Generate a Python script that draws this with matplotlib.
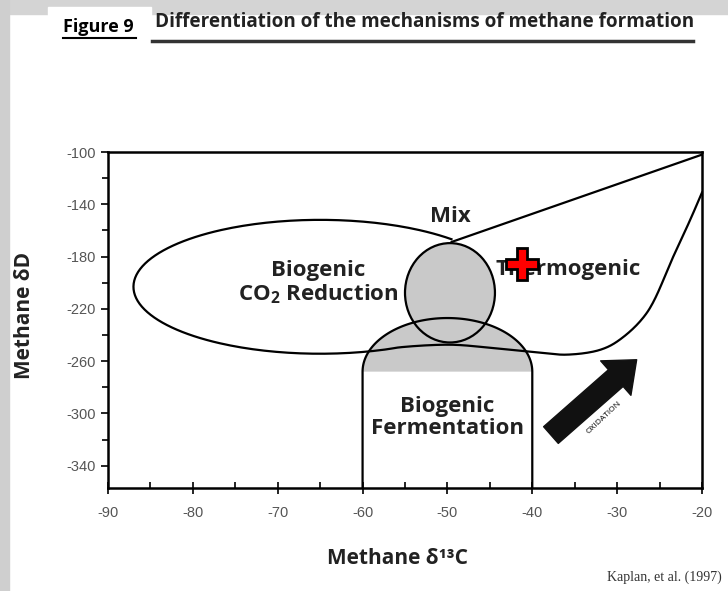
import numpy as np
import matplotlib.pyplot as plt
from matplotlib.patches import Ellipse, Rectangle

plt.rcParams['axes.unicode_minus'] = False
plt.rcParams['mathtext.fontset'] = 'custom'
plt.rcParams['mathtext.rm'] = 'Open Sans:bold'
plt.rcParams['mathtext.default'] = 'rm'

# CO2-reduction field: ellipse (centre, semi-axes) whose arc runs from the mix crossing round the left
co2_centre = (-65.0, -203.1)
co2_semi = (22.0, 51.2)
co2_arc_deg = (45.3, 295.3)
# lower / right boundary of the thermogenic field (delta13C, deltaD)
thermo_low_x = [-49.7, -45.0, -39.1, -35.9, -32.0, -29.7, -26.5, -23.4, -21.4, -20.0]
thermo_low_y = [-247.4, -249.7, -253.5, -255.0, -251.3, -243.6, -223.0, -180.2, -152.0, -131.0]
# upper boundary of thermogenic field
thermo_x = [-49.5, -20.0]
thermo_y = [-168.8, -102.0]
# mix field (centre, width, height)
mix_centre = (-49.7, -207.7)
mix_size = (10.6, 76.0)
# fermentation field: x range, dome base and dome top
ferm_x = [-60, -40]
ferm_base = -268
ferm_top = -227
# oxidation arrow (tail -> tip) and sample point
arrow_tail = (-37.8, -316.5)
arrow_tip = (-27.7, -258.9)
sample_x = [-41.2]
sample_y = [-186.0]

x_ticks = [-90, -80, -70, -60, -50, -40, -30, -20]
y_ticks = [-100, -140, -180, -220, -260, -300, -340]

PX_X, PX_Y = 8.486, 1.309  # pixels per data unit, used only to smooth the outline


def smooth(xs, ys, n=30):
    # centripetal Catmull-Rom through the outline points
    P = np.column_stack([np.array(xs) * PX_X, np.array(ys) * PX_Y])
    P = np.vstack([2 * P[0] - P[1], P, 2 * P[-1] - P[-2]])
    out = []
    for i in range(1, len(P) - 2):
        p0, p1, p2, p3 = P[i - 1], P[i], P[i + 1], P[i + 2]
        t0 = 0.0
        t1 = t0 + np.linalg.norm(p1 - p0) ** 0.5
        t2 = t1 + np.linalg.norm(p2 - p1) ** 0.5
        t3 = t2 + np.linalg.norm(p3 - p2) ** 0.5
        t = np.linspace(t1, t2, n, endpoint=False)[:, None]
        a1 = (t1 - t) / (t1 - t0) * p0 + (t - t0) / (t1 - t0) * p1
        a2 = (t2 - t) / (t2 - t1) * p1 + (t - t1) / (t2 - t1) * p2
        a3 = (t3 - t) / (t3 - t2) * p2 + (t - t2) / (t3 - t2) * p3
        b1 = (t2 - t) / (t2 - t0) * a1 + (t - t0) / (t2 - t0) * a2
        b2 = (t3 - t) / (t3 - t1) * a2 + (t - t1) / (t3 - t1) * a3
        out.append((t2 - t) / (t2 - t1) * b1 + (t - t1) / (t2 - t1) * b2)
    out.append(P[-2][None, :])
    out = np.vstack(out)
    return out[:, 0] / PX_X, out[:, 1] / PX_Y


W, H = 728, 591
fig = plt.figure(figsize=(W / 100, H / 100), dpi=100)
fig.patch.set_facecolor('white')

def fx(px):
    return px / W

def fy(py):
    return 1 - py / H

# page shadow
fig.patches.append(Rectangle((0, fy(14)), 1, 14 / H, transform=fig.transFigure,
                             color='#d4d4d4', zorder=0))
fig.patches.append(Rectangle((0, 0), 9 / W, 1, transform=fig.transFigure,
                             color='#cfcfcf', zorder=0))
fig.patches.append(Rectangle((fx(48), fy(48)), 103 / W, 41 / H, transform=fig.transFigure,
                             color='white', zorder=1))

bold = ['Open Sans', 'DejaVu Sans']
fig.text(fx(63), fy(27), 'Figure 9', fontsize=13, fontweight='bold', family=bold,
         va='center', ha='left', zorder=2)
fig.add_artist(plt.Line2D([fx(63), fx(136)], [fy(38), fy(38)], transform=fig.transFigure,
                          color='black', lw=1.5))
fig.text(fx(155), fy(22), 'Differentiation of the mechanisms of methane formation',
         fontsize=13.6, fontweight='bold', family=bold, va='center', ha='left', color='#222222')
fig.add_artist(plt.Line2D([fx(152), fx(693)], [fy(41), fy(41)], transform=fig.transFigure,
                          color='#333333', lw=2.5))

ax = fig.add_axes([fx(108), fy(488), (702 - 108) / W, (488 - 152) / H])
ax.set_xlim(-90, -20)
ax.set_ylim(-357, -100)

gray = '#c9c9c9'
# fermentation dome
th = np.linspace(0, np.pi, 100)
dome_x = -50 + 10 * np.cos(th)
dome_y = ferm_base + (ferm_top - ferm_base) * np.sin(th)
ax.fill(dome_x, dome_y, color=gray, lw=0, zorder=1)
ax.add_patch(Ellipse(mix_centre, mix_size[0], mix_size[1], facecolor=gray,
                     edgecolor='black', lw=1.6, zorder=2))
ax.plot(np.concatenate([[ferm_x[1]], dome_x, [ferm_x[0]]]),
        np.concatenate([[-357], dome_y, [-357]]), color='black', lw=1.6, zorder=3)

# CO2 ellipse arc, then the thermogenic lower boundary
ang = np.radians(np.linspace(co2_arc_deg[0], co2_arc_deg[1], 200))
arc_x = co2_centre[0] + co2_semi[0] * np.cos(ang)
arc_y = co2_centre[1] + co2_semi[1] * np.sin(ang)
tx, ty = smooth([arc_x[-4], arc_x[-1]] + thermo_low_x, [arc_y[-4], arc_y[-1]] + thermo_low_y)
ax.plot(np.concatenate([arc_x[:-3], tx]), np.concatenate([arc_y[:-3], ty]),
        color='black', lw=1.6, zorder=3)
ax.plot(thermo_x, thermo_y, color='black', lw=1.6, zorder=3)

ax.annotate('', xy=arrow_tip, xytext=arrow_tail,
            arrowprops=dict(arrowstyle='simple,head_length=1.0,head_width=1.65,tail_width=0.8',
                            mutation_scale=20, color='#111111', shrinkA=0, shrinkB=0), zorder=4)
ax.text(-31.5, -303.5, 'OXIDATION', fontsize=6, rotation=43, ha='center', va='center',
        family=bold, zorder=4)

ax.plot(sample_x, sample_y, marker='P', markersize=23, markerfacecolor='#ff0000',
        markeredgecolor='black', markeredgewidth=2, linestyle='none', zorder=6)

lab = dict(fontsize=16, fontweight='bold', family=bold, ha='center', va='center',
           color='#222222', zorder=5, linespacing=1.1)
ax.text(-49.7, -149.5, 'Mix', **lab)
ax.text(-65.2, -200, 'Biogenic\nCO$_2$ Reduction', **lab)
ax.text(-35.8, -190, 'Thermogenic', **lab)
ax.text(-50.0, -303, 'Biogenic\nFermentation', **lab)

ax.set_xticks(x_ticks)
ax.set_xticks(np.arange(-85, -20, 10), minor=True)
ax.set_yticks(y_ticks)
ax.set_yticks(np.arange(-120, -357, -40), minor=True)
ax.tick_params(axis='x', which='major', direction='inout', length=8, width=1.2,
               labelsize=10.5, labelcolor='#555555', pad=9)
ax.tick_params(axis='x', which='minor', direction='in', length=4, width=1.2)
ax.tick_params(axis='y', which='major', direction='out', length=5, width=1.2,
               labelsize=10.5, labelcolor='#555555', pad=4)
ax.tick_params(axis='y', which='minor', direction='out', length=4, width=1.2)
for lbl in ax.get_xticklabels() + ax.get_yticklabels():
    lbl.set_family('Liberation Sans')
for s in ax.spines.values():
    s.set_linewidth(1.8)

ax.set_xlabel('Methane δ¹³C', fontsize=15, fontweight='bold', family=bold, color='#222222')
ax.xaxis.set_label_coords(0.487, -0.179)
ax.set_ylabel('Methane δD', fontsize=15, fontweight='bold', family=bold, color='#222222')
ax.yaxis.set_label_coords(-0.123, 0.515)

fig.text(fx(722), fy(577), 'Kaplan, et al. (1997)', fontsize=10, family='Liberation Serif',
         ha='right', va='center', color='#333333')

fig.savefig('out.png', dpi=100)
